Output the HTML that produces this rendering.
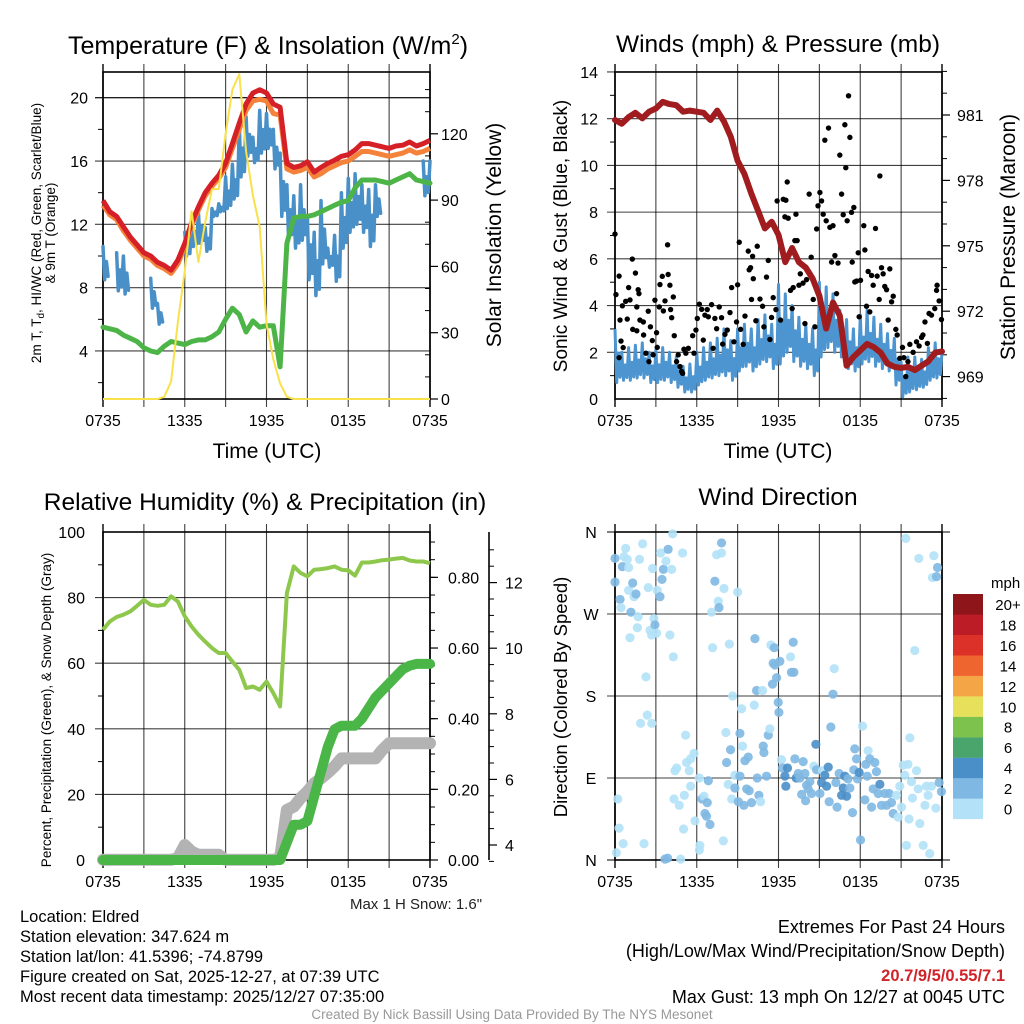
<!DOCTYPE html>
<html><head><meta charset="utf-8"><title>Eldred Meteogram</title>
<style>
html,body{margin:0;padding:0;background:#fff;}
#wrap{position:relative;width:1024px;height:1024px;overflow:hidden;}
svg text{font-family:"Liberation Sans",Arial,sans-serif;}
</style></head>
<body>
<div id="wrap">
<svg id="svg" width="1024" height="1024" viewBox="0 0 1024 1024" xmlns="http://www.w3.org/2000/svg">
<text x="268" y="54" font-size="25" text-anchor="middle">Temperature (F) &amp; Insolation (W/m<tspan font-size="15" dy="-10">2</tspan><tspan dy="10">)</tspan></text>
<text x="778" y="52" font-size="24.5" text-anchor="middle">Winds (mph) &amp; Pressure (mb)</text>
<text x="265" y="510" font-size="24.5" text-anchor="middle">Relative Humidity (%) &amp; Precipitation (in)</text>
<text x="778" y="505" font-size="24.5" text-anchor="middle">Wind Direction</text>
<text x="267" y="458" font-size="21" text-anchor="middle">Time (UTC)</text>
<text x="778" y="458" font-size="21" text-anchor="middle">Time (UTC)</text>
<g transform="translate(41,233) rotate(-90)">
<text x="0" y="0" font-size="13.5" text-anchor="middle">2m T, T<tspan font-size="10" dy="3">d</tspan><tspan dy="-3">, HI/WC (Red, Green, Scarlet/Blue)</tspan></text>
<text x="0" y="14" font-size="13.5" text-anchor="middle">&amp; 9m T (Orange)</text>
</g>
<text transform="translate(501,235) rotate(-90)" font-size="21" text-anchor="middle">Solar Insolation (Yellow)</text>
<text transform="translate(567,236) rotate(-90)" font-size="19" text-anchor="middle">Sonic Wind &amp; Gust (Blue, Black)</text>
<text transform="translate(1015,237) rotate(-90)" font-size="21" text-anchor="middle">Station Pressure (Maroon)</text>
<text transform="translate(51,710) rotate(-90)" font-size="13.5" text-anchor="middle">Percent, Precipitation (Green), &amp; Snow Depth (Gray)</text>
<text transform="translate(567,697) rotate(-90)" font-size="18.5" text-anchor="middle">Direction (Colored By Speed)</text>
<text x="416" y="909" font-size="15" text-anchor="middle" fill="#222">Max 1 H Snow: 1.6"</text>
<g font-size="16.5" fill="#000">
<text x="20" y="922">Location: Eldred</text>
<text x="20" y="942">Station elevation: 347.624 m</text>
<text x="20" y="962">Station lat/lon: 41.5396; -74.8799</text>
<text x="20" y="982">Figure created on Sat, 2025-12-27, at 07:39 UTC</text>
<text x="20" y="1002">Most recent data timestamp: 2025/12/27 07:35:00</text>
</g>
<g font-size="18" text-anchor="end">
<text x="1005" y="933">Extremes For Past 24 Hours</text>
<text x="1005" y="957">(High/Low/Max Wind/Precipitation/Snow Depth)</text>
<text x="1005" y="981" fill="#d1242a" font-weight="bold" font-size="16.5">20.7/9/5/0.55/7.1</text>
<text x="1005" y="1003">Max Gust: 13 mph On 12/27 at 0045 UTC</text>
</g>
<text x="512" y="1019" font-size="13.5" text-anchor="middle" fill="#999">Created By Nick Bassill Using Data Provided By The NYS Mesonet</text>
</svg>
</div>
<script>
// ---------- data (30-min samples, 49 points, 0735 -> 0735) ----------
const timeTicks = ["0735","1335","1935","0135","0735"];
const tempTicks = [4,8,12,16,20];
const solarTicks = [0,30,60,90,120];
const airTemp = [13.5,12.8,12.5,11.85,11.2,10.7,10.2,10.0,9.6,9.4,9.1,9.75,10.8,12.1,13.1,14.0,14.6,15.1,15.85,17.1,18.4,19.6,20.3,20.5,20.3,19.6,19.4,15.85,15.6,15.7,15.95,15.3,15.6,15.85,16.05,16.3,16.4,16.7,17.1,17.1,17.0,16.9,16.8,16.95,17.0,17.2,16.95,17.1,17.3];
const temp9m = [13.2,12.6,12.3,11.6,11.0,10.5,10.0,9.8,9.4,9.2,8.9,9.5,10.6,11.9,12.9,13.8,14.4,14.9,15.6,16.8,18.0,19.2,19.8,19.9,19.8,19.0,18.9,15.5,15.3,15.4,15.6,15.0,15.2,15.5,15.7,15.9,16.0,16.3,16.6,16.6,16.5,16.4,16.3,16.4,16.5,16.7,16.5,16.6,16.8];
const dewPoint = [5.5,5.4,5.3,5.0,4.8,4.6,4.2,4.0,3.9,4.3,4.6,4.5,4.4,4.6,4.7,4.7,4.9,5.2,6.0,6.7,6.3,5.2,5.9,5.5,5.6,5.6,3.0,10.8,12.4,12.5,12.5,12.6,12.8,13.0,13.2,13.4,13.5,14.3,14.8,14.8,14.8,14.7,14.6,14.8,15.0,15.2,14.8,14.7,14.6];
const chillHi = [10.6,null,10.2,10.0,null,null,null,8.6,7.0,null,null,null,11.5,12.3,12.8,11.8,13.0,13.3,15.0,15.8,18.3,18.8,17.5,19.2,19.0,18.0,16.5,14.5,13.8,14.5,12.5,11.5,13.5,10.5,11.3,14.0,14.9,15.2,14.5,14.2,14.5,null,null,null,null,null,null,16.0,16.0];
const chillLo = [8.5,null,7.8,7.6,null,null,null,6.7,5.7,null,null,null,10.0,10.6,10.8,10.3,12.5,12.8,13.0,13.6,15.0,16.3,15.9,16.5,16.8,15.5,12.5,11.0,10.5,11.0,8.5,7.5,9.5,9.3,8.4,10.5,11.5,12.0,11.5,10.6,12.5,null,null,null,null,null,null,13.8,14.5];
const solar = [0,0,0,0,0,0,0,0,0,1,8,35,58,85,62,80,95,95,120,140,147,112,92,78,34,18,7,1,0,0,0,0,0,0,0,0,0,0,0,0,0,0,0,0,0,0,0,0,0];

const windTicks = [0,2,4,6,8,10,12,14];
const pressTicks = [969,972,975,978,981];
const pressure = [980.77,980.6,980.9,981.1,980.85,981.15,981.3,981.6,981.5,981.45,981.15,981.2,981.15,981.1,980.77,981.2,980.7,980.0,978.9,978.3,977.4,976.6,975.8,976.1,975.5,974.25,974.9,974.25,974.0,973.5,972.7,971.2,972.4,971.8,969.5,969.9,970.2,970.5,970.35,970.1,969.6,969.45,969.4,969.45,969.3,969.5,969.7,970.1,970.15];
const windHi = [3.0,2.0,2.2,2.3,2.4,2.0,2.1,2.2,2.0,1.8,1.4,1.5,2.0,2.2,2.4,2.6,3.0,2.5,3.0,3.2,3.0,3.4,3.6,3.2,4.9,4.5,4.0,3.5,3.2,3.0,5.0,4.8,4.5,3.8,3.4,3.0,3.6,3.8,3.5,3.2,2.8,2.6,1.6,1.8,1.8,1.7,2.2,2.4,2.0];
const windLo = [0.7,0.8,0.8,0.9,0.9,0.7,0.7,0.8,0.7,0.5,0.3,0.3,0.6,0.8,0.9,1.0,1.0,0.8,1.2,1.4,1.2,1.5,1.6,1.3,1.5,2.0,1.6,1.4,1.3,1.0,1.8,2.2,2.0,1.8,1.3,1.2,1.5,1.6,1.4,1.3,1.2,0.6,0.1,0.3,0.4,0.5,0.8,0.9,0.9];
const gustHour = [0,0.07,0.3,0.37,0.44,0.6,0.3,0.54,0.78,0.9,1.0,1.1,1.27,1.3,1.5,1.6,1.7,1.76,1.6,1.83,2.08,2.1,2.27,2.44,2.49,2.6,2.74,2.8,2.93,3.05,3.1,3.25,3.3,3.47,3.55,3.67,3.86,3.9,4.03,4.08,4.16,4.28,4.35,4.52,4.64,4.77,4.89,4.96,5.06,5.2,5.38,5.7,5.8,5.94,6.04,6.19,6.36,6.48,6.6,6.77,6.85,7.09,7.2,7.33,7.46,7.65,7.82,7.9,8.07,8.24,8.44,8.56,8.73,8.92,9.0,9.12,9.22,9.41,9.54,9.78,9.85,9.95,10.02,10.1,10.15,10.34,10.44,10.64,10.83,10.93,11.12,11.25,11.37,11.49,11.61,11.81,11.9,12.15,12.35,12.47,12.54,12.64,12.71,12.88,13.0,13.08,13.2,13.28,13.37,13.5,13.6,13.8,13.94,14.06,14.25,14.4,14.55,14.67,14.8,14.9,15.04,15.16,15.28,15.4,15.5,15.67,15.77,15.9,16.0,16.14,16.26,16.37,16.5,16.63,16.75,16.87,16.94,17.04,17.14,17.24,17.36,17.41,17.53,17.6,17.73,17.85,17.92,18.02,18.26,18.34,18.46,18.58,18.7,18.83,18.95,19.12,19.24,19.39,19.44,19.56,19.68,19.8,19.93,20.05,20.17,20.3,20.42,20.61,20.71,20.9,21.1,21.2,21.34,21.5,21.64,21.88,22.13,22.32,22.5,22.6,22.75,22.93,23.05,23.23,23.47,23.6,23.64,23.79,23.96];
const gustSpeed = [7.06,4.47,5.26,3.38,2.48,2.2,1.77,3.99,4.18,3.42,4.77,4.24,5.99,2.98,5.39,3.94,4.68,4.51,2.92,3.38,3.3,2.74,1.96,3.76,1.6,3.09,2.5,1.89,4.23,2.84,2.21,3.94,4.9,5.25,3.77,4.2,6.6,5.33,4.87,3.83,3.48,4.37,2.71,1.6,1.89,1.39,1.18,1.1,2.13,1.96,2.17,2.71,1.96,2.95,3.45,4.06,3.84,2.52,3.59,3.83,3.52,4.04,2.17,3.45,3.01,3.94,3.48,2.35,2.77,2.95,3.7,4.77,2.45,3.3,4.89,6.71,2.98,2.34,3.55,6.33,5.53,5.62,4.26,6.11,5.15,3.35,6.54,4.28,3.97,3.09,5.22,5.93,2.55,3.49,4.34,3.83,8.48,3.38,8.55,7.8,8.51,9.29,7.74,4.65,3.87,4.77,6.78,7.91,6.78,4.87,5.36,4.96,3.23,5.11,8.77,6.07,4.26,3.09,7.28,8.27,8.84,8.48,7.91,11.08,7.63,11.6,7.35,5.86,7.42,6.14,4.51,5.82,10.44,8.77,7.89,11.74,9.9,7.63,12.98,11.2,7.99,5.86,8.2,5.01,5.05,6.26,3.52,5.08,7.42,6.38,3.97,5.46,3.73,5.29,4.87,7.3,5.26,4.26,9.55,5.62,5.36,4.82,4.68,3.38,5.57,4.16,4.4,2.98,2.74,1.74,2.21,1.77,0.96,1.6,2.34,2.0,2.45,2.27,2.64,2.74,3.3,2.38,3.66,3.59,3.87,4.65,4.87,4.2,3.4];

const rhTicks = [0,20,40,60,80,100];
const precipTicks = ["0.00","0.20","0.40","0.60","0.80"];
const snowTicks = [4,6,8,10,12];
const humidity = [70.2,72.7,74.1,74.8,75.8,77.5,79.3,77.8,77.5,77.8,80.4,78.8,74.3,71.2,68.7,66.6,64.6,63.1,63.1,60.5,58.0,52.4,52.9,51.9,54.4,50.9,46.8,81.4,89.5,87.5,86.5,88.5,88.7,89.0,89.5,88.5,88.3,86.7,90.7,90.7,91.0,91.4,91.6,91.9,92.1,91.3,91.0,91.0,90.5];
const precip = [0,0,0,0,0,0,0,0,0,0,0,0,0,0,0,0,0,0,0,0,0,0,0,0,0,0,0,0.05,0.10,0.10,0.11,0.18,0.25,0.32,0.37,0.38,0.38,0.38,0.40,0.43,0.46,0.48,0.50,0.52,0.54,0.55,0.555,0.555,0.555];
const snowDepth = [3.55,3.55,3.55,3.55,3.55,3.55,3.55,3.55,3.55,3.55,3.55,3.6,4.0,3.8,3.7,3.7,3.7,3.7,3.55,3.55,3.55,3.55,3.55,3.55,3.55,3.55,3.6,5.07,5.17,5.43,5.63,5.88,6.03,6.2,6.4,6.64,6.64,6.64,6.64,6.64,6.64,6.9,7.1,7.1,7.1,7.1,7.1,7.1,7.1];

const dirTicks = ["N","W","S","E","N"];
const dirHour = [0,0,0.2,0.3,0.1,0.37,0.44,0.54,0.66,0.78,0.9,1.0,0.6,1.0,1.17,1.3,1.4,1.54,1.1,1.64,1.7,1.8,2.03,2.27,1.88,2.13,2.37,2.44,2.57,2.69,2.76,2.86,2.93,3.05,2.7,3.1,3.3,3.35,3.45,3.55,3.74,3.9,4.03,4.16,4.23,4.28,3.67,3.86,4.82,4.96,5.03,5.18,5.25,5.55,5.45,4.4,4.52,4.33,4.72,5.09,5.55,5.8,5.87,6.19,6.23,6.19,6.38,6.53,6.77,6.85,6.6,6.72,6.97,7.09,7.16,7.33,7.46,7.58,7.63,7.82,7.82,8.0,7.95,8.14,8.19,8.31,8.39,8.48,8.63,8.56,8.8,8.8,9.0,9.05,9.17,9.17,9.29,9.36,9.46,9.54,9.66,9.78,9.85,10.02,10.22,10.27,10.39,10.44,10.56,10.68,10.83,10.88,10.93,11.12,11.25,11.37,11.44,11.56,11.61,11.69,11.74,11.86,11.98,12.03,12.1,12.22,12.3,12.47,12.54,12.66,12.88,12.95,13.08,13.13,13.2,13.3,13.45,13.57,13.7,13.81,13.94,13.99,14.06,14.18,14.3,14.42,14.6,14.74,14.79,15.04,15.16,15.23,15.4,15.53,15.65,15.72,15.84,16.0,16.09,16.21,16.3,16.45,16.63,16.75,16.87,17.0,17.1,17.24,17.43,17.53,17.6,17.73,17.8,17.92,18.02,18.17,18.34,18.41,18.51,18.58,18.7,18.83,18.95,19.07,19.19,19.32,19.44,19.56,19.8,19.93,20.12,20.29,20.42,20.66,20.78,20.9,21.03,21.15,21.27,21.34,21.39,21.5,21.58,21.64,21.76,21.83,22.0,22.13,22.25,22.3,22.37,22.62,22.75,22.86,22.98,23.1,23.23,23.3,23.4,23.55,23.6,23.67,23.79,23.96];
const dirDeg = [305,331,67,35,8,286,277,322,333,342,330,321,18,296,272,304,289,292,244,255,267,330,347,201,150,18,159,299,252,247,320,265,258,249,150,296,289,337,308,319,328,341,247,319,358,223,1,2,1,337,34,137,107,111,98,98,101,67,60,71,81,117,43,90,16,11,67,70,63,87,51,48,39,272,233,306,335,284,277,348,337,298,21,140,107,83,237,121,180,67,93,79,294,64,139,92,166,125,60,109,78,113,76,63,170,243,186,90,71,64,186,125,118,92,137,144,236,193,216,233,214,200,173,162,218,110,101,92,81,101,223,206,239,206,111,90,95,90,72,108,95,65,82,78,86,73,103,127,99,73,85,98,93,81,102,64,146,182,210,85,58,95,71,79,92,70,89,79,52,99,122,111,89,96,22,147,66,105,92,120,111,58,78,107,97,73,83,60,73,60,73,63,51,71,47,81,58,104,93,353,16,105,45,134,86,68,230,98,78,331,40,16,60,81,71,7,81,310,334,57,311,321,85,75];
const dirSpeed = [3,3,1,1,1,3,1,3,1,1,1,1,1,1,3,3,1,3,1,1,1,1,1,1,1,1,1,1,1,1,1,1,3,1,1,1,3,1,3,3,1,3,1,1,1,1,3,3,1,1,1,1,1,1,1,1,1,1,1,1,1,1,1,1,1,1,3,1,3,3,3,3,3,1,1,3,1,1,3,3,1,1,1,1,3,1,1,3,1,1,1,3,1,3,3,3,1,1,3,3,3,3,3,3,1,3,3,3,3,1,1,3,3,3,3,1,1,3,3,3,3,3,3,3,3,1,3,5,5,5,1,3,3,3,3,5,3,3,3,3,3,3,3,3,3,3,1,5,3,3,5,1,5,5,5,3,3,3,1,3,3,3,5,5,5,5,3,3,3,3,3,3,3,5,3,1,3,3,3,1,3,3,3,3,3,3,5,3,3,3,3,3,3,1,1,1,1,1,1,1,1,1,1,1,1,1,1,1,1,1,1,1,1,1,1,1,1,1,1,1,3,3,3,3,3,1];
const speedBins = ["0","2","4","6","8","10","12","14","16","18","20+"];
const binColors = ["#b3e2f8","#7fb8e2","#4a8fc8","#4aa56c","#7cc24c","#e6e05a","#f4a646","#ef6530","#dc3128","#bc1c25","#8e1519"];

// ---------- helpers ----------
const NS = "http://www.w3.org/2000/svg";
const svg = document.getElementById("svg");
function mk(tag, name, parent, attrs) {
  const el = document.createElementNS(NS, tag);
  
  
  for (const k in attrs) el.setAttribute(k, attrs[k]);
  (parent || svg).appendChild(el);
  return el;
}
function txt(name, parent, x, y, s, size, anchor) {
  const t = mk("text", name, parent, {x: x, y: y, "font-size": size || 16, "text-anchor": anchor || "middle"});
  t.textContent = s;
  return t;
}
function panel(x0, x1, yT, yB) {
  const X = h => x0 + h / 24 * (x1 - x0);
  return {x0, x1, yT, yB, X};
}
function pathFrom(pts) {
  let d = "", pen = false;
  for (const p of pts) {
    if (p == null) { pen = false; continue; }
    d += (pen ? "L" : "M") + p[0].toFixed(1) + " " + p[1].toFixed(1);
    pen = true;
  }
  return d;
}
function noisyPts(hi, lo, X, Y) {
  const pts = [];
  const pat = [1, 0, 0.55, 0.1];
  for (let k = 0; k < hi.length; k++) {
    if (hi[k] == null) { pts.push(null); continue; }
    for (let j = 0; j < 4; j++) {
      if (k === hi.length - 1 && j > 0) break;
      const v = lo[k] + (hi[k] - lo[k]) * pat[j];
      pts.push([X(k / 2 + j * 0.125), Y(v)]);
    }
  }
  return pts;
}
function frame(P, name, yGridVals, Y, g) {
  for (let i = 1; i < 8; i++) {
    const x = P.x0 + i * (P.x1 - P.x0) / 8;
    mk("line", name + "-vgrid", g, {x1: x, x2: x, y1: P.yT - 8, y2: P.yB + 8, stroke: "#000", "stroke-width": 1.1, opacity: 0.75});
  }
  for (const v of yGridVals) {
    const y = Y(v);
    mk("line", name + "-hgrid", g, {x1: P.x0 - 8, x2: P.x1, y1: y, y2: y, stroke: "#000", "stroke-width": 1.1, opacity: 0.75});
  }
  mk("rect", name + "-frame", g, {x: P.x0, y: P.yT, width: P.x1 - P.x0, height: P.yB - P.yT, fill: "none", stroke: "#000", "stroke-width": 1.6});
  for (let i = 0; i <= 8; i += 8) {
    const x = P.x0 + i * (P.x1 - P.x0) / 8;
    mk("line", name + "-edge-tick", g, {x1: x, x2: x, y1: P.yT - 8, y2: P.yB + 8, stroke: "#000", "stroke-width": 1.4});
  }
  timeTicks.forEach((lab, i) => {
    txt(name + "-x-tick-label", g, P.X(i * 6), P.yB + 27, lab, 16);
  });
}

// ================= Panel 1: temperature =================
const P1 = panel(103, 430, 72, 399);
const Y1 = v => 97.7 + (20 - v) * 15.83;
const Y1r = v => 399 - v * 2.21;
const g1 = mk("g", "temperature-panel", svg, {});
frame(P1, "temp", tempTicks.concat([20]), Y1, g1);
tempTicks.forEach(v => txt("temp-y-tick-label", g1, 88, Y1(v) + 6, String(v), 16, "end"));
[2,6,10,14,18].forEach(v => mk("line", "temp-minor-tick", g1, {x1: P1.x0 - 5, x2: P1.x0, y1: Y1(v), y2: Y1(v), stroke: "#000"}));
solarTicks.forEach(v => {
  mk("line", "solar-tick", g1, {x1: P1.x1, x2: P1.x1 + 8, y1: Y1r(v), y2: Y1r(v), stroke: "#000", "stroke-width": 1.2});
  txt("solar-y-tick-label", g1, 441, Y1r(v) + 6, String(v), 16, "start");
});
[10,20,40,50,70,80,100,110,130,140].forEach(v => mk("line", "solar-minor-tick", g1, {x1: P1.x1 - 5, x2: P1.x1, y1: Y1r(v), y2: Y1r(v), stroke: "#000"}));
const tpts = arr => arr.map((v, k) => v == null ? null : [P1.X(k / 2), Y1(v)]);
mk("path", "heat-index-windchill-line", g1, {d: pathFrom(noisyPts(chillHi, chillLo, P1.X, Y1)), fill: "none", stroke: "#4a90c8", "stroke-width": 3.5, "stroke-linejoin": "round", "stroke-linecap": "round"});
mk("path", "dewpoint-line", g1, {d: pathFrom(tpts(dewPoint)), fill: "none", stroke: "#4db548", "stroke-width": 5, "stroke-linejoin": "round", "stroke-linecap": "round"});
mk("path", "temp-9m-line", g1, {d: pathFrom(tpts(temp9m)), fill: "none", stroke: "#f5823a", "stroke-width": 5, "stroke-linejoin": "round"});
mk("path", "temp-2m-line", g1, {d: pathFrom(tpts(airTemp)), fill: "none", stroke: "#d42026", "stroke-width": 5, "stroke-linejoin": "round"});
mk("path", "solar-line", g1, {d: pathFrom(solar.map((v, k) => [P1.X(k / 2), Y1r(v)])), fill: "none", stroke: "#f9e14a", "stroke-width": 2, "stroke-linejoin": "round"});

// ================= Panel 2: winds =================
const P2 = panel(615, 942, 72, 399);
const Y2 = v => 399 - v * 23.36;
const Y2r = p => 115 + (981 - p) * 21.8;
const g2 = mk("g", "winds-panel", svg, {});
frame(P2, "wind", windTicks.slice(1), Y2, g2);
windTicks.forEach(v => txt("wind-y-tick-label", g2, 598, Y2(v) + 6, String(v), 16, "end"));
[1,3,5,7,9,11,13].forEach(v => mk("line", "wind-minor-tick", g2, {x1: P2.x0 - 5, x2: P2.x0, y1: Y2(v), y2: Y2(v), stroke: "#000"}));
pressTicks.forEach(v => {
  mk("line", "pressure-tick", g2, {x1: P2.x1, x2: P2.x1 + 8, y1: Y2r(v), y2: Y2r(v), stroke: "#000", "stroke-width": 1.2});
  txt("pressure-y-tick-label", g2, 957, Y2r(v) + 6, String(v), 16, "start");
});
for (let p = 968; p <= 983; p++) if (pressTicks.indexOf(p) < 0) mk("line", "pressure-minor-tick", g2, {x1: P2.x1, x2: P2.x1 + 5, y1: Y2r(p), y2: Y2r(p), stroke: "#000"});
mk("path", "wind-speed-line", g2, {d: pathFrom(noisyPts(windHi, windLo, P2.X, Y2)), fill: "none", stroke: "#4d95d0", "stroke-width": 3, "stroke-linejoin": "round"});
gustHour.forEach((h, i) => {
  mk("circle", "gust-point", g2, {cx: P2.X(h), cy: Y2(gustSpeed[i]), r: 2.7, fill: "#000"});
});
mk("path", "pressure-line", g2, {d: pathFrom(pressure.map((v, k) => [P2.X(k / 2), Y2r(v)])), fill: "none", stroke: "#a01c1f", "stroke-width": 6, "stroke-linejoin": "round", "stroke-linecap": "round"});

// ================= Panel 3: humidity =================
const P3 = panel(103, 430, 532, 860);
const Y3 = v => 860 - v * 3.28;
const Y3p = v => 860 - v * 353.3;
const Y3s = s => 845 - (s - 4) * 32.8;
const g3 = mk("g", "humidity-panel", svg, {});
frame(P3, "rh", [20, 40, 60, 80], Y3, g3);
rhTicks.forEach(v => txt("rh-y-tick-label", g3, 85, Y3(v) + 6, String(v), 16, "end"));
[10,30,50,70,90].forEach(v => mk("line", "rh-minor-tick", g3, {x1: P3.x0 - 5, x2: P3.x0, y1: Y3(v), y2: Y3(v), stroke: "#000"}));
precipTicks.forEach(s => {
  const v = parseFloat(s);
  mk("line", "precip-tick", g3, {x1: P3.x1, x2: P3.x1 + 8, y1: Y3p(v), y2: Y3p(v), stroke: "#000", "stroke-width": 1.2});
  txt("precip-y-tick-label", g3, 448, Y3p(v) + 6, s, 16, "start");
});
for (let v = 0.05; v < 0.92; v += 0.05) mk("line", "precip-minor-tick", g3, {x1: P3.x1, x2: P3.x1 + 5, y1: Y3p(v), y2: Y3p(v), stroke: "#000"});
mk("line", "snow-axis-line", g3, {x1: 489, x2: 489, y1: 532, y2: 860, stroke: "#000", "stroke-width": 1.6});
snowTicks.forEach(v => {
  mk("line", "snow-tick", g3, {x1: 489, x2: 497, y1: Y3s(v), y2: Y3s(v), stroke: "#000", "stroke-width": 1.2});
  txt("snow-y-tick-label", g3, 505, Y3s(v) + 6, String(v), 16, "start");
});
for (let v = 3.5; v < 13.5; v += 0.5) if (v % 2) mk("line", "snow-minor-tick", g3, {x1: 489, x2: 494, y1: Y3s(v), y2: Y3s(v), stroke: "#000"});
mk("path", "snow-depth-line", g3, {d: pathFrom(snowDepth.map((v, k) => [P3.X(k / 2), Math.min(Y3s(v), 860)])), fill: "none", stroke: "#b3b3b3", "stroke-width": 12, "stroke-linejoin": "round", "stroke-linecap": "round"});
mk("path", "precip-line", g3, {d: pathFrom(precip.map((v, k) => [P3.X(k / 2), Y3p(v)])), fill: "none", stroke: "#4bb648", "stroke-width": 10, "stroke-linejoin": "round", "stroke-linecap": "round"});
mk("path", "humidity-line", g3, {d: pathFrom(humidity.map((v, k) => [P3.X(k / 2), Y3(v)])), fill: "none", stroke: "#8dc84d", "stroke-width": 4, "stroke-linejoin": "round"});

// ================= Panel 4: wind direction =================
const P4 = panel(615, 942, 532, 860);
const Y4 = d => 860 - d * (328 / 360);
const g4 = mk("g", "direction-panel", svg, {});
frame(P4, "dir", [90, 180, 270], Y4, g4);
dirTicks.forEach((lab, i) => {
  const d = 360 - i * 90;
  mk("line", "dir-y-tick", g4, {x1: P4.x0 - 8, x2: P4.x1 + 8, y1: Y4(d), y2: Y4(d), stroke: "#000", "stroke-width": 1.1, opacity: i % 4 ? 0 : 1});
  txt("dir-y-tick-label", g4, 591, Y4(d) + 6, lab, 16);
});
const binOf = s => Math.min(10, Math.max(0, Math.floor(s / 2)));
dirHour.forEach((h, i) => {
  mk("circle", "direction-point", g4, {cx: P4.X(h), cy: Y4(dirDeg[i]), r: 4.6, fill: binColors[binOf(dirSpeed[i])], opacity: 0.9});
});
const gc = mk("g", "speed-colorbar", svg, {});
txt("colorbar-title", gc, 991, 588, "mph", 15, "start");
for (let i = 0; i < speedBins.length; i++) {
  const top = 594 + (10 - i) * 20.45;
  mk("rect", "colorbar-box", gc, {x: 953, y: top, width: 30, height: 20.6, fill: binColors[i]});
  txt("colorbar-label", gc, 1008, top + 16, speedBins[i], 15);
}
</script>
</body></html>
